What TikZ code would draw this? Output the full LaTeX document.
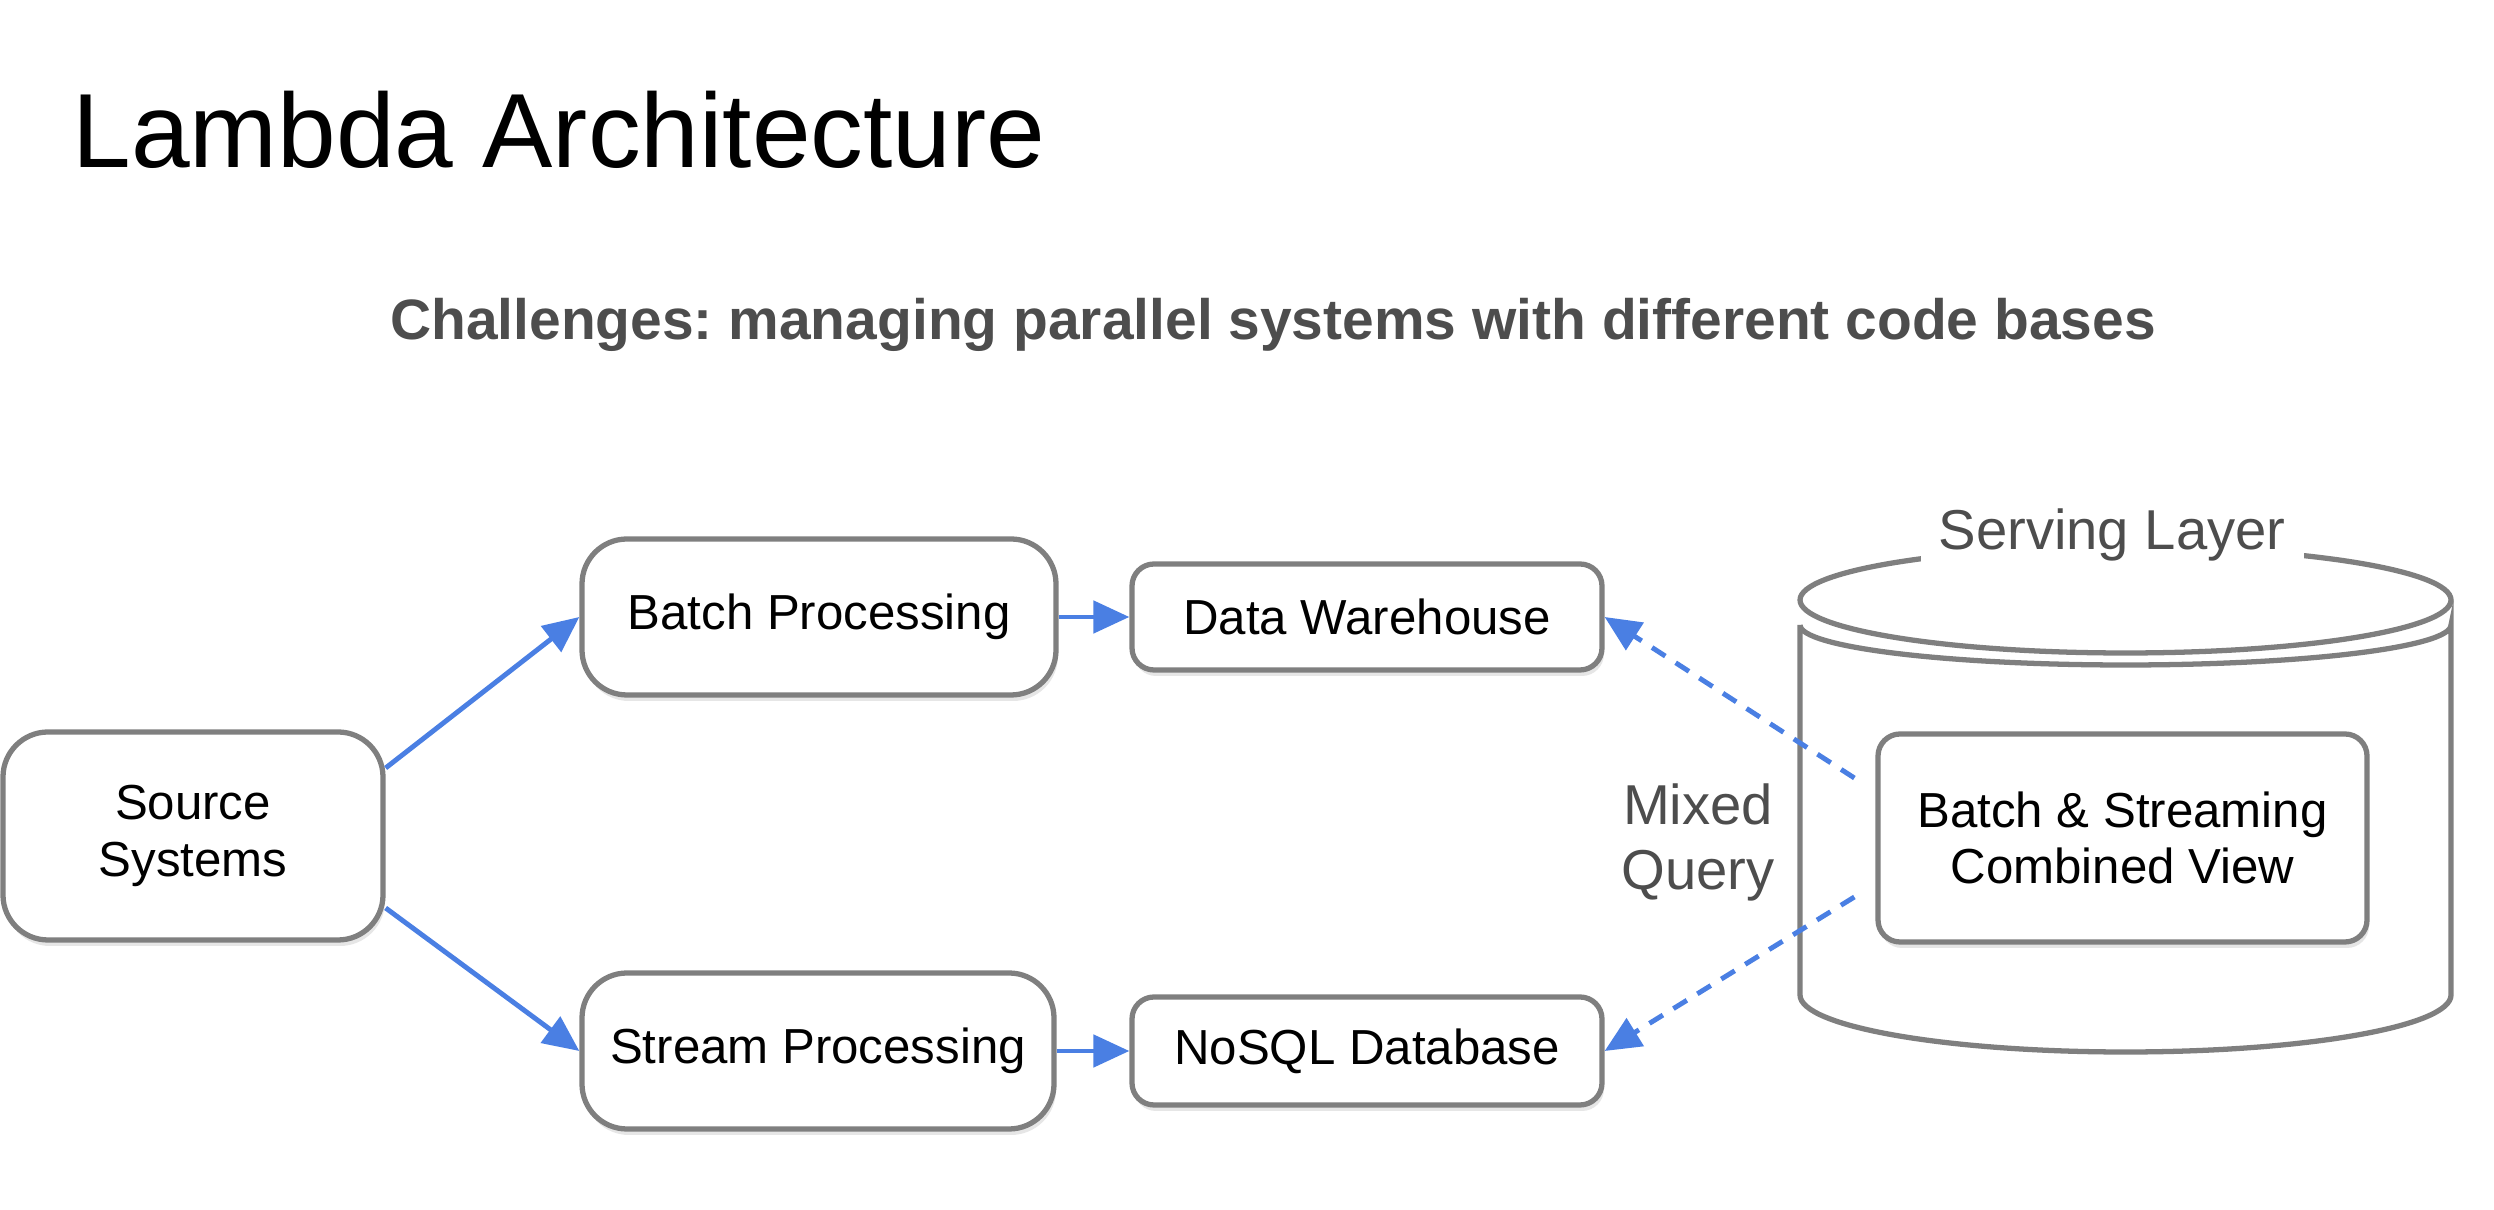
\documentclass[tikz,border=0pt]{standalone}
\usepackage{fontspec}
\setmainfont{Liberation Sans}
\usetikzlibrary{arrows.meta,shadows}
\frenchspacing

\definecolor{boxgray}{HTML}{7F7F7F}
\definecolor{flowblue}{HTML}{4A7FE3}
\definecolor{labelgray}{HTML}{4D4D4D}

\tikzset{
  procbox/.style={draw=boxgray, line width=1.5pt, fill=white, rounded corners=0.45cm,
    align=center, inner sep=0pt, font=\fontsize{14}{16}\selectfont,
    drop shadow={shadow xshift=0.02cm, shadow yshift=-0.06cm, opacity=0.2}},
  storebox/.style={procbox, rounded corners=0.22cm},
  flow/.style={flowblue, line width=1.4pt, -{Triangle[length=0.36cm,width=0.32cm]}},
  query/.style={flow, dash pattern=on 4.5pt off 3.5pt},
}

\begin{document}
\begin{tikzpicture}
    \useasboundingbox (0,0) rectangle (24.94,12.10);

    % Title
    \node[anchor=base west, font=\fontsize{30}{36}\selectfont] (title) at (0.60,10.42) {Lambda Architecture};
    \node[anchor=base, font=\bfseries\fontsize{16.2}{19}\selectfont, text=labelgray] (note) at (12.73,8.70)
        {Challenges: managing parallel systems with different code bases};

    % Serving layer cylinder
    \draw[boxgray, line width=1.5pt, fill=white] (18.00,5.85) -- (18.00,2.15)
        arc (180:360:3.255 and 0.57) -- (24.51,5.85) arc (0:-180:3.255 and 0.40);
    \draw[boxgray, line width=1.5pt, fill=white] (21.255,6.10) ellipse (3.255 and 0.53);
    \node[anchor=base, fill=white, inner xsep=0.18cm, inner ysep=2pt, text=labelgray,
        font=\fontsize{16}{19}\selectfont] (layer) at (21.12,6.60) {Serving Layer};

    % Boxes
    \node[procbox, minimum width=3.80cm, minimum height=2.08cm] (src) at (1.93,3.74) {Source\\Systems};
    \node[procbox, minimum width=4.74cm, minimum height=1.56cm] (batch) at (8.19,5.93) {Batch Processing};
    \node[procbox, minimum width=4.72cm, minimum height=1.56cm] (stream) at (8.18,1.59) {Stream Processing};
    \node[storebox, minimum width=4.70cm, minimum height=1.06cm] (dw) at (13.67,5.93) {Data Warehouse};
    \node[storebox, minimum width=4.70cm, minimum height=1.08cm] (nosql) at (13.67,1.59) {NoSQL Database};
    \node[storebox, minimum width=4.89cm, minimum height=2.08cm] (view) at (21.225,3.72)
        {Batch \& Streaming\\Combined View};

    % Mixed query label
    \node[align=center, text=labelgray, font=\fontsize{16}{18.5}\selectfont] (mixq) at (16.98,3.68) {Mixed\\Query};

    % Flows
    \draw[flow] ([yshift=0.68cm]src.east) -- (batch.west);
    \draw[flow] ([yshift=-0.72cm]src.east) -- (stream.west);
    \draw[flow] (batch.east) -- (dw.west);
    \draw[flow] (stream.east) -- (nosql.west);

    % Queries
    \draw[query] ([shift={(-0.21,0.60)}]view.west) -- (dw.east);
    \draw[query] ([shift={(-0.21,-0.59)}]view.west) -- (nosql.east);
\end{tikzpicture}
\end{document}
